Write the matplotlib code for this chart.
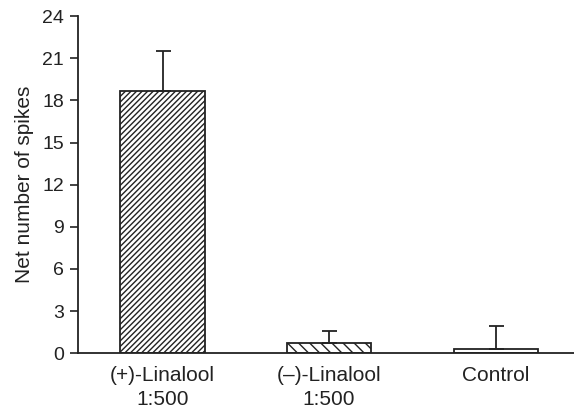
import matplotlib
matplotlib.use('Agg')
import matplotlib.pyplot as plt

# values
labels = ['(+)-Linalool\n1:500', '(\u2013)-Linalool\n1:500', 'Control']
means = [18.7, 0.75, 0.3]
sem = [2.85, 0.85, 1.65]
hatches = ['//////', '\\\\\\', '']

plt.rcParams['font.family'] = ['Liberation Sans', 'DejaVu Sans']
plt.rcParams['hatch.linewidth'] = 1.0
plt.rcParams['hatch.color'] = '#222222'

fig = plt.figure(figsize=(5.74, 4.15), dpi=100)
ax = fig.add_axes([0.136, 0.149, 0.864, 0.812])

x = range(len(labels))
for i in x:
    ax.bar(i, means[i], width=0.505, color='white', edgecolor='#222222',
           linewidth=1.3, hatch=hatches[i], zorder=2)
ax.errorbar(list(x), means, yerr=[[0] * len(sem), sem], fmt='none',
            ecolor='#222222', elinewidth=1.3, capsize=5.4, capthick=1.3, zorder=3)

ax.set_xlim(-0.507, 2.47)
ax.set_ylim(0, 24)
ax.set_yticks(range(0, 25, 3))
ax.set_xticks(list(x))
ax.set_xticklabels(labels, fontsize=15, color='#222222', linespacing=1.35)
ax.tick_params(axis='x', length=0, pad=9)
ax.tick_params(axis='y', labelsize=14, labelcolor='#222222', length=6, width=1.2,
               color='#222222', pad=4)
ax.set_ylabel('Net number of spikes', fontsize=15, color='#222222', labelpad=6)

for s in ['top', 'right']:
    ax.spines[s].set_visible(False)
for s in ['left', 'bottom']:
    ax.spines[s].set_linewidth(1.3)
    ax.spines[s].set_color('#222222')

fig.savefig('out.png', dpi=100)
